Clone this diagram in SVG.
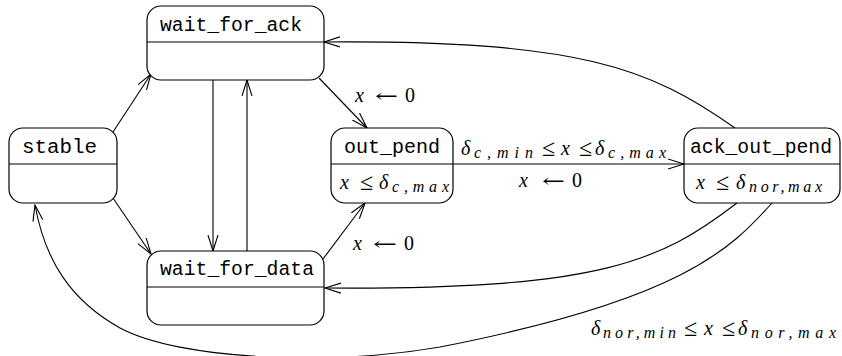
<svg xmlns="http://www.w3.org/2000/svg" width="842" height="356" viewBox="0 0 842 356">
<style>
.box{fill:#fff;stroke:#000;stroke-width:1.2}
.div{stroke:#000;stroke-width:1.2}
.tt{font-family:"Liberation Mono","DejaVu Sans Mono",monospace;font-size:20px;fill:#000}
.m{font-family:"Liberation Serif","DejaVu Serif",serif;font-style:italic;font-size:20px;fill:#000}
.n{font-family:"Liberation Serif","DejaVu Serif",serif;font-size:20px;fill:#000}
.y{font-family:"DejaVu Serif",serif;font-size:18px;fill:#000}
.le{font-family:"Liberation Serif","DejaVu Serif",serif;font-size:24px;fill:#000}
.s{font-family:"Liberation Serif","DejaVu Serif",serif;font-style:italic;font-size:16px;fill:#000}
.e{fill:none;stroke:#000;stroke-width:1.1;marker-end:url(#arr)}
</style>
<defs>
<marker id="arr" viewBox="0 0 17 12" refX="16" refY="6" markerWidth="17" markerHeight="12" markerUnits="userSpaceOnUse" orient="auto">
<path d="M0,1 L16,6 L0,11" fill="none" stroke="#000" stroke-width="1.1"/>
</marker>
</defs>
<g id="connectors">
<path class="e" d="M113,132 L151,74"/>
<path class="e" d="M113,198 L151,254"/>
<path class="e" d="M213,80 L213,251"/>
<path class="e" d="M247,251 L247,80"/>
<path class="e" d="M319,78 L367,128"/>
<path class="e" d="M323,259 L365,203"/>
<path class="e" d="M453,164 L684,164"/>
<path class="e" d="M735,128 C650,68 580,40 324,42"/>
<path class="e" d="M737,203 C660,262 600,290 325,288"/>
<path class="e" d="M772,203 C730,250 680,300 440,347 C330,366 180,360 120,328 C70,300 45,260 35,205"/>
</g>
<g id="wait_for_ack">
<rect class="box" x="147" y="6" width="177" height="74" rx="14"/>
<line class="div" x1="147" y1="42" x2="324" y2="42"/>
<text class="tt" x="160" y="31" textLength="142" lengthAdjust="spacingAndGlyphs">wait_for_ack</text>
</g>
<g id="stable">
<rect class="box" x="9" y="128" width="108" height="75" rx="14"/>
<line class="div" x1="9" y1="164" x2="117" y2="164"/>
<text class="tt" x="22" y="153" textLength="75" lengthAdjust="spacingAndGlyphs">stable</text>
</g>
<g id="out_pend">
<rect class="box" x="331" y="128" width="122" height="75" rx="14"/>
<line class="div" x1="331" y1="164" x2="453" y2="164"/>
<text class="tt" x="344" y="153" textLength="96" lengthAdjust="spacingAndGlyphs">out_pend</text>
<text class="m" x="340" y="189">x</text>
<text class="le" x="360" y="190">≤</text>
<text class="m" x="379" y="189">δ</text>
<text class="s" x="392" y="192" textLength="57" lengthAdjust="spacing">c,max</text>
</g>
<g id="ack_out_pend">
<rect class="box" x="684" y="128" width="156" height="75" rx="14"/>
<line class="div" x1="684" y1="164" x2="840" y2="164"/>
<text class="tt" x="690" y="153" textLength="142" lengthAdjust="spacingAndGlyphs">ack_out_pend</text>
<text class="m" x="696" y="189">x</text>
<text class="le" x="716" y="190">≤</text>
<text class="m" x="736" y="189">δ</text>
<text class="s" x="749" y="192" textLength="73" lengthAdjust="spacing">nor,max</text>
</g>
<g id="wait_for_data">
<rect class="box" x="147" y="251" width="177" height="74" rx="14"/>
<line class="div" x1="147" y1="287" x2="324" y2="287"/>
<text class="tt" x="160" y="275" textLength="154" lengthAdjust="spacingAndGlyphs">wait_for_data</text>
</g>
<g id="labels">
<text class="m" x="355" y="102">x</text>
<text class="y" x="375" y="102" textLength="23" lengthAdjust="spacingAndGlyphs">←</text>
<text class="n" x="405" y="102">0</text>

<text class="m" x="353" y="250">x</text>
<text class="y" x="373" y="250" textLength="24" lengthAdjust="spacingAndGlyphs">←</text>
<text class="n" x="404" y="250">0</text>

<text class="m" x="461" y="155">δ</text>
<text class="s" x="474" y="158" textLength="59" lengthAdjust="spacing">c,min</text>
<text class="le" x="542" y="156">≤</text>
<text class="m" x="561" y="155">x</text>
<text class="le" x="579" y="156">≤</text>
<text class="m" x="595" y="155">δ</text>
<text class="s" x="608" y="158" textLength="58" lengthAdjust="spacing">c,max</text>

<text class="m" x="519" y="187">x</text>
<text class="y" x="542" y="187" textLength="23" lengthAdjust="spacingAndGlyphs">←</text>
<text class="n" x="572" y="187">0</text>

<text class="m" x="591" y="335">δ</text>
<text class="s" x="603" y="338" textLength="73" lengthAdjust="spacing">nor,min</text>
<text class="le" x="684" y="336">≤</text>
<text class="m" x="704" y="335">x</text>
<text class="le" x="722" y="336">≤</text>
<text class="m" x="738" y="335">δ</text>
<text class="s" x="751" y="338" textLength="85" lengthAdjust="spacing">nor,max</text>
</g>
</svg>
